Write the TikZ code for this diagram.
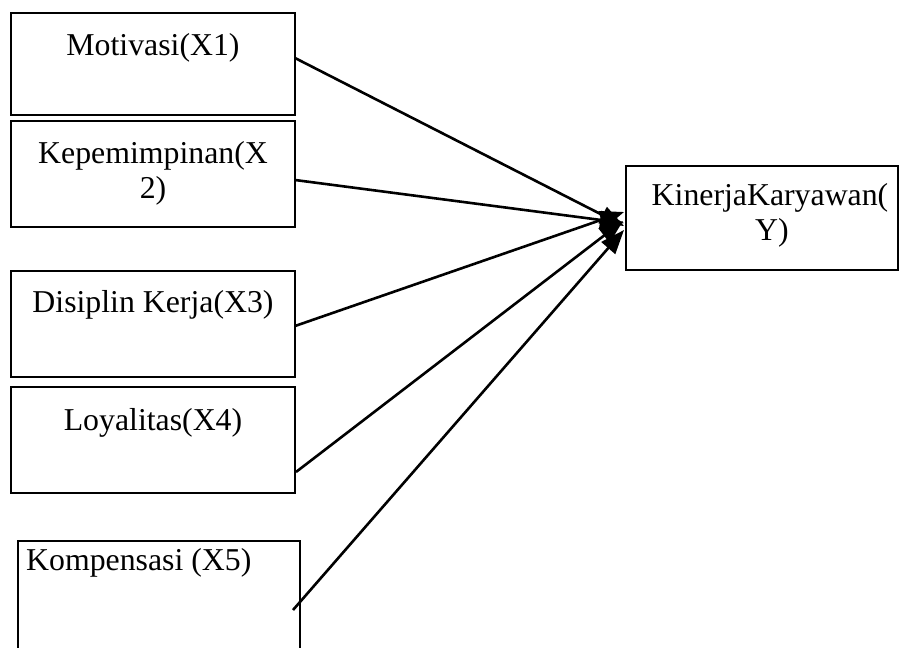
\documentclass[tikz,border=0pt]{standalone}
\usepackage{fontspec}
\setmainfont{Liberation Serif}
\usetikzlibrary{arrows.meta}
\begin{document}
\begin{tikzpicture}[x=1pt,y=-1pt,
  boxstyle/.style={draw=black,line width=1.7pt},
  txt/.style={inner sep=0pt,anchor=base,font=\fontsize{31.8}{36}\selectfont},
  conn/.style={line width=2.6pt,-{Triangle[length=24pt,width=18pt]}}]
\useasboundingbox (0,0) rectangle (900,648);
\clip (0,0) rectangle (900,648);
% boxes
\draw[boxstyle] (11,13) rectangle (295,115) node[pos=0.5,inner sep=0pt] (b1) {};
\draw[boxstyle] (11,121) rectangle (295,227) node[pos=0.5,inner sep=0pt] (b2) {};
\draw[boxstyle] (11,271) rectangle (295,377) node[pos=0.5,inner sep=0pt] (b3) {};
\draw[boxstyle] (11,387) rectangle (295,493) node[pos=0.5,inner sep=0pt] (b4) {};
\draw[boxstyle] (18,541) rectangle (300,670) node[pos=0.5,inner sep=0pt] (b5) {};
\draw[boxstyle] (626,166) rectangle (898,270) node[pos=0.5,inner sep=0pt] (y) {};
% texts
\node[txt] (t1) at (153,55) {Motivasi(X1)};
\node[txt] (t2a) at (153,163) {Kepemimpinan(X};
\node[txt] (t2b) at (153,198) {2)};
\node[txt] (t3) at (153,312) {Disiplin Kerja(X3)};
\node[txt] (t4) at (153,430) {Loyalitas(X4)};
\node[txt,anchor=base west] (t5) at (26,570) {Kompensasi (X5)};
\node[txt] (ty1) at (770,205) {KinerjaKaryawan(};
\node[txt] (ty2) at (772,240) {Y)};
% connector ends
\coordinate (s1) at (295,58);
\coordinate (s2) at (295,180);
\coordinate (s3) at (295,326);
\coordinate (s4) at (296,472);
\coordinate (s5) at (293,610);
\coordinate (e1) at (624,226);
\coordinate (e2) at (624,223);
\coordinate (e3) at (624,212);
\coordinate (e4) at (623,221);
\coordinate (e5) at (624,230);
\draw[conn] (s1) -- (e1);
\draw[conn] (s2) -- (e2);
\draw[conn] (s3) -- (e3);
\draw[conn] (s4) -- (e4);
\draw[conn] (s5) -- (e5);
\end{tikzpicture}
\end{document}
